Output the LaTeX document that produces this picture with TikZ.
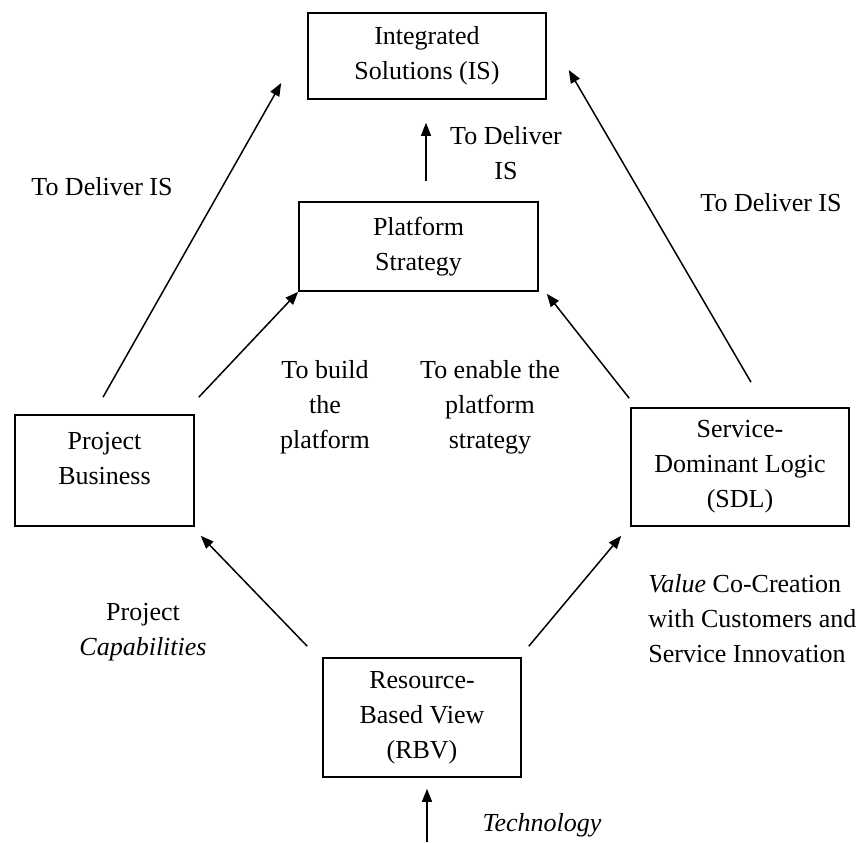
\documentclass[tikz,border=0pt]{standalone}
\usepackage{fontspec}
\setmainfont{Liberation Serif}
\usetikzlibrary{arrows.meta}

\begin{document}
\begin{tikzpicture}[x=0.5pt, y=-0.5pt,
  every node/.style={font=\fontsize{13}{17.5}\selectfont, align=center},
  box/.style={draw, line width=0.8pt, inner sep=0pt},
  arr/.style={line width=0.75pt, -{Triangle[length=6.5pt, width=5pt]}},
  txt/.style={inner sep=0pt}]
\useasboundingbox (0,0) rectangle (862,842);

% boxes
\node[box, minimum width=119pt, minimum height=43pt] (is) at (427,56) {Integrated\\Solutions (IS)};
\node[box, minimum width=119.5pt, minimum height=44.5pt] (ps) at (418.5,246.5) {Platform\\Strategy};
\node[box, minimum width=89.5pt, minimum height=55.5pt] (pb) at (104.5,470.5) {};
\node[txt] (pbtext) at (104.5,458.5) {Project\\Business};
\node[box, minimum width=109pt, minimum height=59pt] (sdl) at (740,467) {Service-\\Dominant Logic\\(SDL)};
\node[box, minimum width=99pt, minimum height=59.5pt] (rbv) at (422,717.5) {Resource-\\Based View\\(RBV)};
\coordinate (tech) at (427,842);

% connectors
\draw[arr] ([shift={(-1.5,-17)}]pb.north) -- ([shift={(-26,27)}]is.west);
\draw[arr] ([shift={(4,-17)}]pb.north east) -- (ps.south west);
\draw[arr] ([shift={(-1,-9)}]sdl.north west) -- ([shift={(8,2)}]ps.south east);
\draw[arr] ([shift={(11,-25)}]sdl.north) -- ([shift={(22,14)}]is.east);
\draw[arr] ([shift={(7.5,-20)}]ps.north) -- ([shift={(-1,23)}]is.south);
\draw[arr] ([shift={(-15,-11)}]rbv.north west) -- ([shift={(6,9)}]pb.south east);
\draw[arr] ([shift={(7,-11)}]rbv.north east) -- ([shift={(-9,9)}]sdl.south west);
\draw[arr] (tech) -- ([shift={(5,11)}]rbv.south);

% labels
\node[txt] (l1) at (102,187) {To Deliver IS};
\node[txt] (l2) at (506,153) {To Deliver\\IS};
\node[txt] (l3) at (771,203) {To Deliver IS};
\node[txt] (l4) at (325,407) {To build\\the\\platform};
\node[txt] (l5) at (490,407) {To enable the\\platform\\strategy};
\node[txt] (l6) at (143,632) {Project\\\textit{Capabilities}};
\node[txt, anchor=west, align=left] (l7) at (648,619) {\textit{Value} Co-Creation\\with Customers and\\Service Innovation};
\node[txt] (l8) at (542,825) {\textit{Technology}};
\end{tikzpicture}
\end{document}
